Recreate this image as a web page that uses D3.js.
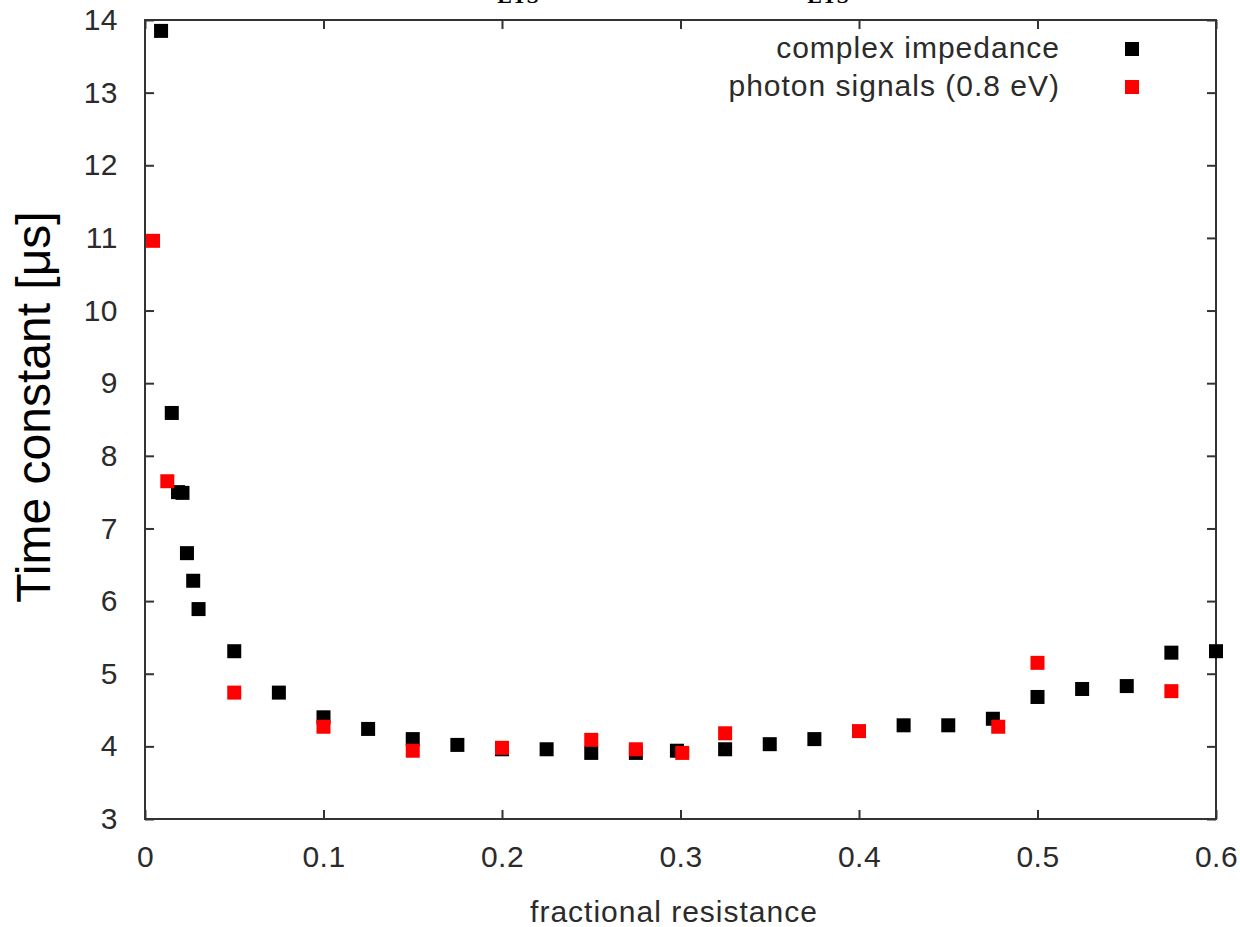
<!DOCTYPE html>
<html>
<head>
<meta charset="utf-8">
<script src="https://cdn.jsdelivr.net/npm/d3@7"></script>
<style>
  body { margin: 0; background: #fff; }
  text { font-family: "Liberation Sans", Arial, sans-serif; }
</style>
</head>
<body>
<div id="chart"></div>
<script>
// complex impedance (black)
var impX = [0.009, 0.015, 0.0185, 0.021, 0.0235, 0.027, 0.030, 0.050, 0.075, 0.100,
            0.125, 0.150, 0.175, 0.200, 0.225, 0.250, 0.275, 0.298, 0.325, 0.350,
            0.375, 0.425, 0.450, 0.475, 0.500, 0.525, 0.550, 0.575, 0.600];
var impY = [13.85, 8.59, 7.50, 7.49, 6.66, 6.28, 5.89, 5.31, 4.74, 4.40,
            4.24, 4.10, 4.02, 3.96, 3.96, 3.91, 3.91, 3.94, 3.96, 4.03,
            4.10, 4.29, 4.29, 4.38, 4.68, 4.79, 4.83, 5.29, 5.31];

// photon signals (red)
var phoX = [0.0045, 0.0125, 0.050, 0.100, 0.150, 0.200, 0.250, 0.275, 0.301, 0.325,
            0.400, 0.478, 0.500, 0.575];
var phoY = [10.96, 7.65, 4.74, 4.27, 3.94, 3.98, 4.09, 3.96, 3.91, 4.18,
            4.21, 4.27, 5.15, 4.76];

var xTicks = [0, 0.1, 0.2, 0.3, 0.4, 0.5, 0.6];
var yTicks = [3, 4, 5, 6, 7, 8, 9, 10, 11, 12, 13, 14];

var legendLabels = ["complex impedance", "photon signals (0.8 eV)"];
var seriesColors = ["#000000", "#ff0000"];

var margin = {top: 20, right: 24, bottom: 108, left: 145},
    width = 1240 - margin.left - margin.right,
    height = 927 - margin.top - margin.bottom;

var svg = d3.select("#chart")
  .append("svg")
    .attr("width", 1240)
    .attr("height", 927);

var g = svg.append("g")
    .attr("transform", `translate(${margin.left},${margin.top})`);

var x = d3.scaleLinear().domain([0, 0.6]).range([0, width]);
var y = d3.scaleLinear().domain([3, 14]).range([height, 0]);

var axisColor = "#333";
var textColor = "#2b2b2b";

// inward ticks on all four sides
function styleAxis(sel) {
  sel.select(".domain").remove();
  sel.selectAll("line").attr("stroke", axisColor).attr("stroke-width", 2);
  sel.selectAll("text")
    .attr("fill", textColor)
    .style("font-size", "30px")
    .style("letter-spacing", "0.5px");
}

g.append("g")
    .attr("transform", `translate(0,${height})`)
    .call(d3.axisBottom(x).tickValues(xTicks).tickSize(-9).tickPadding(27)
      .tickFormat(function(d) { return d === 0 ? "0" : d3.format(".1f")(d); }))
    .call(styleAxis);

g.append("g")
    .call(d3.axisTop(x).tickValues(xTicks).tickSize(-9).tickFormat(""))
    .call(styleAxis);

g.append("g")
    .call(d3.axisLeft(y).tickValues(yTicks).tickSize(-9).tickPadding(27))
    .call(styleAxis);

g.append("g")
    .attr("transform", `translate(${width},0)`)
    .call(d3.axisRight(y).tickValues(yTicks).tickSize(-9).tickFormat(""))
    .call(styleAxis);

// frame
g.append("rect")
    .attr("width", width)
    .attr("height", height)
    .attr("fill", "none")
    .attr("stroke", axisColor)
    .attr("stroke-width", 2);

// points
var size = 14;
function drawSeries(xs, ys, color) {
  g.append("g")
    .selectAll("rect")
    .data(xs.map(function(v, i) { return [v, ys[i]]; }))
    .enter()
    .append("rect")
      .attr("x", function(d) { return x(d[0]) - size / 2; })
      .attr("y", function(d) { return y(d[1]) - size / 2; })
      .attr("width", size)
      .attr("height", size)
      .attr("fill", color);
}
drawSeries(impX, impY, seriesColors[0]);
drawSeries(phoX, phoY, seriesColors[1]);

// legend
legendLabels.forEach(function(lab, i) {
  var ly = 49 + i * 38;
  svg.append("text")
      .attr("x", 1060)
      .attr("y", ly + 9)
      .attr("text-anchor", "end")
      .attr("fill", textColor)
      .style("font-size", "30px")
      .style("letter-spacing", "1px")
      .text(lab);
  svg.append("rect")
      .attr("x", 1132 - 7)
      .attr("y", ly - 7)
      .attr("width", 14)
      .attr("height", 14)
      .attr("fill", seriesColors[i]);
});

// axis titles
svg.append("text")
    .attr("x", 674)
    .attr("y", 922)
    .attr("text-anchor", "middle")
    .attr("fill", textColor)
    .style("font-size", "30px")
    .style("letter-spacing", "1px")
    .text("fractional resistance");

svg.append("text")
    .attr("transform", "translate(50,407) rotate(-90)")
    .attr("text-anchor", "middle")
    .attr("fill", "#000")
    .style("font-size", "48px")
    .text("Time constant [μs]");

// clipped title remnants at the very top
[518, 828].forEach(function(px) {
  svg.append("text")
      .attr("x", px)
      .attr("y", 3)
      .attr("text-anchor", "middle")
      .attr("fill", "#000")
      .style("font-family", "'Liberation Serif', serif")
      .style("font-weight", "bold")
      .style("font-size", "22px")
      .text("ETS");
});
</script>
</body>
</html>
